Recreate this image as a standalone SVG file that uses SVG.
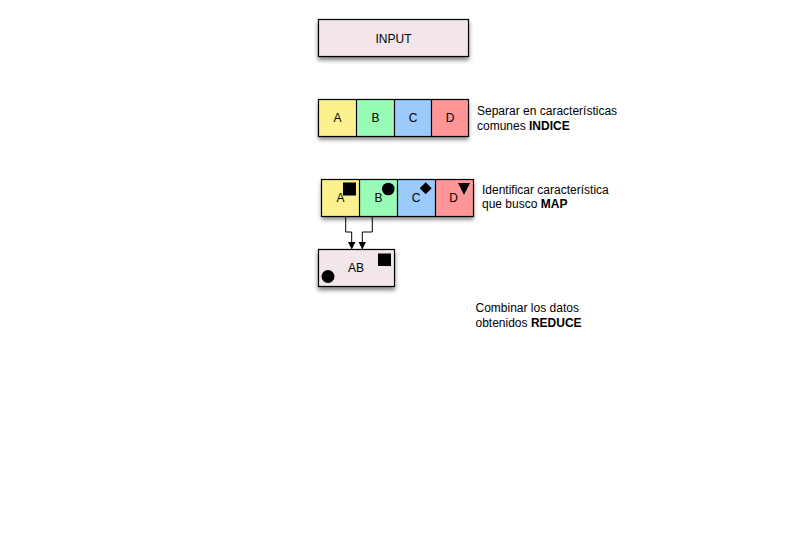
<svg xmlns="http://www.w3.org/2000/svg" width="806" height="536" viewBox="0 0 806 536">
<defs>
<filter id="sh" x="-20%" y="-30%" width="140%" height="170%">
<feDropShadow dx="0" dy="3" stdDeviation="2.2" flood-color="#000" flood-opacity="0.5"/>
</filter>
<marker id="ah" markerWidth="8" markerHeight="8" refX="7" refY="4" orient="auto" markerUnits="userSpaceOnUse">
<path d="M0,0 L8,4 L0,8 Z" fill="#000"/>
</marker>
<style>
.t{font-family:"Liberation Sans",Arial,sans-serif;font-size:12px;fill:#000}
.c{text-anchor:middle}
.b{stroke:#000;stroke-width:1.2}
.pink{fill:#f2e6ea}
.ya{fill:#fdf08e}
.gb{fill:#98fbb6}
.bc{fill:#9ccafb}
.rd{fill:#fe9596}
.k{fill:#000}
.ln{fill:none;stroke:#000;stroke-width:1}
</style>
</defs>
<rect width="806" height="536" fill="#fff"/>

<g id="input">
<rect x="318.5" y="19.5" width="150" height="37" class="pink b" filter="url(#sh)"/>
<text x="393.5" y="42.5" class="t c">INPUT</text>
</g>

<g id="indice">
<g filter="url(#sh)">
<rect x="318.5" y="99.5" width="38" height="37" class="ya"/>
<rect x="356.5" y="99.5" width="38" height="37" class="gb"/>
<rect x="394.5" y="99.5" width="37" height="37" class="bc"/>
<rect x="431.5" y="99.5" width="37" height="37" class="rd"/>
</g>
<rect x="318.5" y="99.5" width="150" height="37" fill="none" class="b"/>
<line x1="356.5" y1="99.5" x2="356.5" y2="136.5" class="b"/>
<line x1="394.5" y1="99.5" x2="394.5" y2="136.5" class="b"/>
<line x1="431.5" y1="99.5" x2="431.5" y2="136.5" class="b"/>
<text x="337.5" y="122" class="t c">A</text>
<text x="375.5" y="122" class="t c">B</text>
<text x="413" y="122" class="t c">C</text>
<text x="450" y="122" class="t c">D</text>
</g>
<g id="indice-label">
<text x="477" y="115" class="t">Separar en características</text>
<text x="477" y="130" class="t">comunes <tspan font-weight="bold">INDICE</tspan></text>
</g>

<g id="map">
<g filter="url(#sh)">
<rect x="321.5" y="179.5" width="38" height="37" class="ya"/>
<rect x="359.5" y="179.5" width="38" height="37" class="gb"/>
<rect x="397.5" y="179.5" width="38" height="37" class="bc"/>
<rect x="435.5" y="179.5" width="38" height="37" class="rd"/>
</g>
<rect x="321.5" y="179.5" width="152" height="37" fill="none" class="b"/>
<line x1="359.5" y1="179.5" x2="359.5" y2="216.5" class="b"/>
<line x1="397.5" y1="179.5" x2="397.5" y2="216.5" class="b"/>
<line x1="435.5" y1="179.5" x2="435.5" y2="216.5" class="b"/>
<text x="340.5" y="202" class="t c">A</text>
<text x="378.5" y="202" class="t c">B</text>
<text x="416" y="202" class="t c">C</text>
<text x="453.5" y="202" class="t c">D</text>
<rect x="343" y="182.5" width="13" height="13" class="k"/>
<circle cx="388.3" cy="189" r="6.3" class="k"/>
<path d="M425.7,182.3 L431.7,188.3 L425.7,194.3 L419.7,188.3 Z" class="k"/>
<path d="M458,183 L470,183 L464,195 Z" class="k"/>
</g>
<g id="map-label">
<text x="482" y="194" class="t">Identificar característica</text>
<text x="482" y="208" class="t">que busco <tspan font-weight="bold">MAP</tspan></text>
</g>

<g id="connectors">
<path d="M345.7,216.5 V232 H351.7 V248.5" class="ln" marker-end="url(#ah)"/>
<path d="M372.3,216.5 V232 H362.3 V248.5" class="ln" marker-end="url(#ah)"/>
</g>

<g id="ab">
<rect x="318.5" y="249.5" width="76" height="37" class="pink b" filter="url(#sh)"/>
<text x="356" y="272" class="t c">AB</text>
<rect x="378" y="253.5" width="13" height="12.5" class="k"/>
<circle cx="328" cy="276.5" r="6.5" class="k"/>
</g>
<g id="reduce-label">
<text x="475.5" y="312" class="t">Combinar los datos</text>
<text x="475.5" y="327" class="t">obtenidos <tspan font-weight="bold">REDUCE</tspan></text>
</g>
</svg>
